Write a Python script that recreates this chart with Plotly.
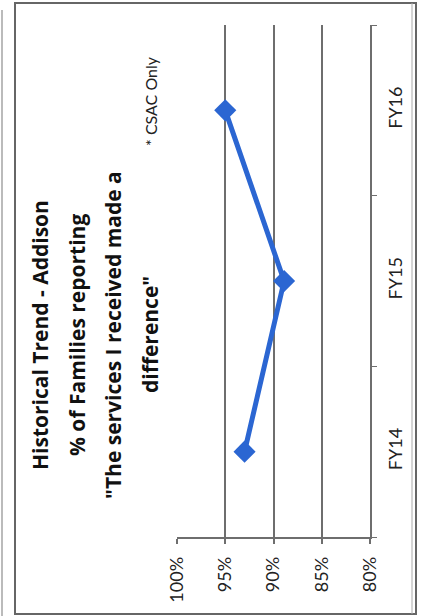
import plotly.graph_objects as go

# Data
categories = ["FY14", "FY15", "FY16"]
values = [93.0, 88.9, 95.0]
tick_vals = [80, 85, 90, 95, 100]
tick_text = ["80%", "85%", "90%", "95%", "100%"]
title_lines = [
    "Historical Trend - Addison",
    "% of Families reporting",
    "\"The services I received made a",
    "difference\"",
]
note_text = "* CSAC Only"

W, H = 424, 616
L, R, T, B = 177, 54, 25, 79
PW = W - L - R
PH = H - T - B


def px(x):
    return (x - L) / PW


def py(y):
    return (H - B - y) / PH


FONT = "Lato"
TITLE_FONT = "Open Sans"
LINE_BLUE = "#2b66d2"
GRID = "#6e6e6e"

fig = go.Figure()
fig.add_trace(go.Scatter(
    x=values, y=categories, mode="lines+markers",
    line=dict(color=LINE_BLUE, width=5),
    marker=dict(symbol="diamond", size=17, color=LINE_BLUE),
    showlegend=False, cliponaxis=False,
))

fig.update_layout(
    width=W, height=H,
    margin=dict(l=L, r=R, t=T, b=B, autoexpand=False),
    paper_bgcolor="white", plot_bgcolor="white",
    font=dict(family=FONT, color="#222"),
    xaxis=dict(
        range=[100, 80], tickvals=tick_vals, ticktext=tick_text,
        tickangle=-90, showgrid=True, gridcolor=GRID, gridwidth=1.5,
        showline=True, linecolor=GRID, linewidth=1.5,
        ticks="outside", ticklen=5, tickcolor=GRID, tickwidth=1.5,
        ticklabelstandoff=6,
        tickfont=dict(size=18, family=FONT, color="#222"),
        zeroline=False, automargin=False, fixedrange=True,
    ),
    yaxis=dict(
        type="category", categoryorder="array", categoryarray=categories,
        range=[-0.5, len(categories) - 0.5],
        side="right", tickangle=-90, showgrid=False,
        showline=True, linecolor=GRID, linewidth=1.5,
        ticks="outside", tickson="boundaries", ticklen=5, tickcolor=GRID,
        ticklabelstandoff=9,
        tickfont=dict(size=18, family=FONT, color="#222"),
        zeroline=False, automargin=False, fixedrange=True,
    ),
)

title_x = [40, 77, 113, 150]
for line, xx in zip(title_lines, title_x):
    fig.add_annotation(
        text="<b>" + line + "</b>", xref="paper", yref="paper",
        x=px(xx), y=py(335), xanchor="center", yanchor="middle",
        textangle=-90, showarrow=False,
        font=dict(size=21, family=TITLE_FONT, color="#111"),
    )

fig.add_annotation(
    text=note_text, xref="paper", yref="paper",
    x=px(150), y=py(101), xanchor="center", yanchor="middle",
    textangle=-90, showarrow=False,
    font=dict(size=16, family=FONT, color="#222"),
)

# outer frame
fig.add_shape(type="rect", xref="paper", yref="paper",
              x0=px(15), x1=px(416), y0=py(614), y1=py(3),
              line=dict(color="#666", width=2), layer="below")
fig.add_shape(type="line", xref="paper", yref="paper",
              x0=px(412), x1=px(412), y0=py(614), y1=py(3),
              line=dict(color="#aaa", width=1), layer="below")
fig.add_shape(type="line", xref="paper", yref="paper",
              x0=px(2), x1=px(2), y0=py(616), y1=py(10),
              line=dict(color="#bbb", width=2), layer="below")

fig.write_html("out.html")
